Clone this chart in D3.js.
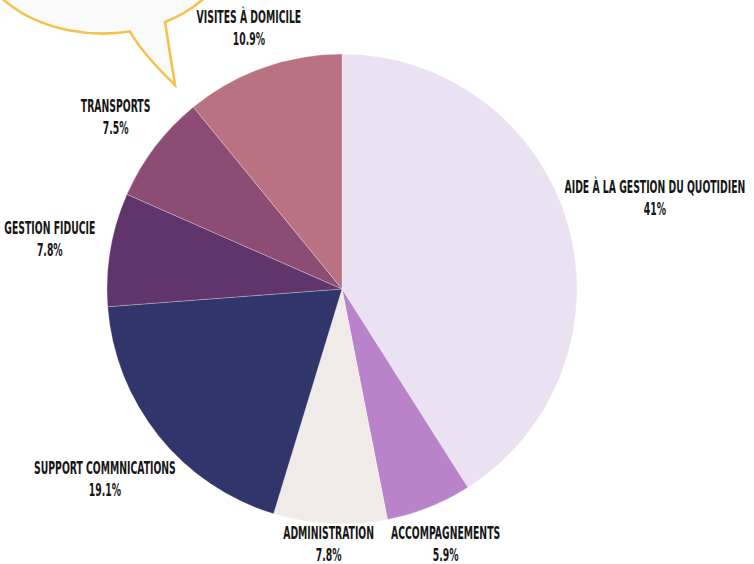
<!DOCTYPE html>
<html>
<head>
<meta charset="utf-8">
<script src="https://cdn.jsdelivr.net/npm/d3@7"></script>
<style>
  html, body { margin: 0; padding: 0; background: #ffffff; }
  svg { display: block; }
  .lbl { font-family: "Liberation Sans Narrow", "DejaVu Sans Condensed", "Roboto", sans-serif; font-weight: 700; fill: #161616; }
</style>
</head>
<body>
<div id="chart"></div>
<script>
const categories = ["Aide à la gestion du quotidien", "Accompagnements", "Administration", "Support commnications", "Gestion fiducie", "Transports", "Visites à domicile"];
const values = [41, 5.9, 7.8, 19.1, 7.8, 7.5, 10.9];
const valueLabels = ["41%", "5.9%", "7.8%", "19.1%", "7.8%", "7.5%", "10.9%"];
const colors = ["#EAE1F3", "#B983CA", "#F0EBE9", "#30356B", "#5F356B", "#8C4C73", "#B87282"];

const W = 754, H = 564;
const cx = 342, cy = 289, R = 235;

const svg = d3.select("#chart").append("svg").attr("width", W).attr("height", H);

// speech bubble decoration (top-left)
const ex = 95, ey = -60, erx = 130, ery = 95;
const ellY = x => ey + ery * Math.sqrt(1 - Math.pow((x - ex) / erx, 2));
const ax = 130, bx = 165;
const bubblePath = `M${ax},${ellY(ax)} Q141,52 175,85 L${bx},${ellY(bx) + 2} A${erx},${ery} 0 1 0 ${ax},${ellY(ax)} Z`;
svg.append("path").attr("d", bubblePath)
  .attr("fill", "#FAFAFA").attr("stroke", "#F4C24E").attr("stroke-width", 2.6).attr("stroke-linejoin", "miter");

const pie = d3.pie().sort(null).value(d => d)(values);
const arc = d3.arc().innerRadius(0).outerRadius(R);

const g = svg.append("g").attr("transform", `translate(${cx},${cy})`);
g.selectAll("path.slice").data(pie).join("path")
  .attr("class", "slice")
  .attr("d", arc)
  .attr("fill", (d, i) => colors[i])
  .attr("stroke", "#ffffff").attr("stroke-opacity", 0.45).attr("stroke-width", 0.6);

// labels
const sx = 0.59;
const fs = 17.5;
const baseR = R * 1.128;
pie.forEach((d, i) => {
  const a = (d.startAngle + d.endAngle) / 2;
  const s = Math.sin(a), c = -Math.cos(a);
  const lg = svg.append("g");
  const inner = lg.append("g").attr("transform", `scale(${sx},1)`);
  const t1 = inner.append("text").attr("class", "lbl").attr("text-anchor", "middle")
    .attr("font-size", fs).attr("y", -11).attr("dominant-baseline", "central")
    .text(categories[i].toUpperCase());
  inner.append("text").attr("class", "lbl").attr("text-anchor", "middle")
    .attr("font-size", fs).attr("y", 11).attr("dominant-baseline", "central")
    .text(valueLabels[i]);
  const w = t1.node().getBBox().width * sx;
  const r = baseR + 0.7 * Math.abs(s) * w / 2;
  const x = cx + r * s;
  const y = Math.min(cy + r * c, H - 20);
  lg.attr("transform", `translate(${x},${y})`);
});
</script>
</body>
</html>
